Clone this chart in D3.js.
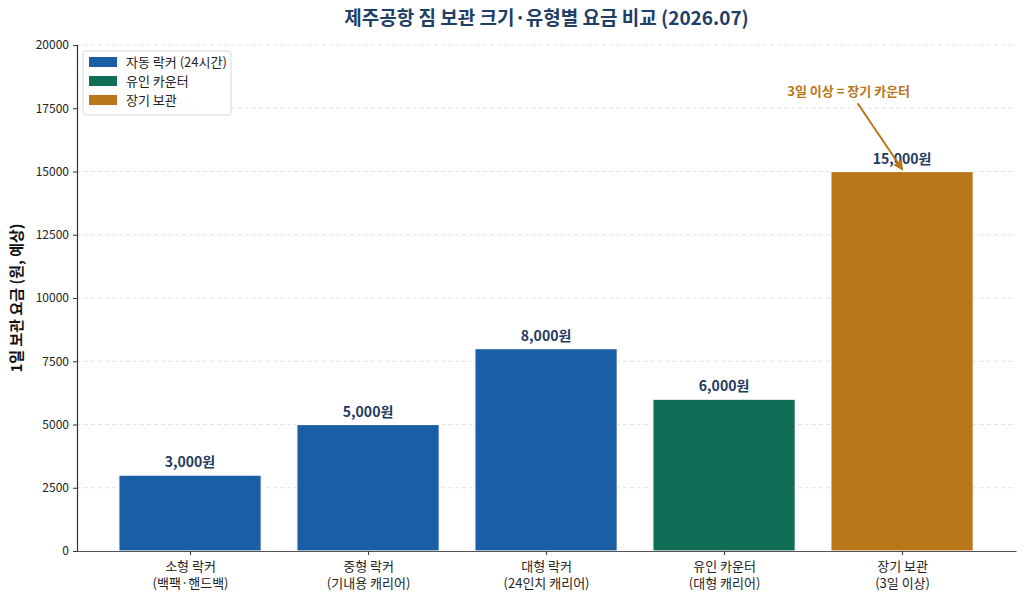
<!DOCTYPE html>
<html>
<head>
<meta charset="utf-8">
<script src="https://cdn.jsdelivr.net/npm/d3@7"></script>
<style>
  body { margin: 0; background: #fff; }
  text { font-family: "Noto Sans CJK KR", "Noto Sans", sans-serif; }
</style>
</head>
<body>
<div id="chart"></div>
<script>
// data
var categories = ["소형 락커\n(백팩·핸드백)", "중형 락커\n(기내용 캐리어)", "대형 락커\n(24인치 캐리어)", "유인 카운터\n(대형 캐리어)", "장기 보관\n(3일 이상)"];
var prices = [3000, 5000, 8000, 6000, 15000];
var types = ["자동 락커 (24시간)", "자동 락커 (24시간)", "자동 락커 (24시간)", "유인 카운터", "장기 보관"];
var legendKeys = ["자동 락커 (24시간)", "유인 카운터", "장기 보관"];
var yTicks = [0, 2500, 5000, 7500, 10000, 12500, 15000, 17500, 20000];

var width = 1024, height = 601;
var margin = { left: 77, right: 8, top: 45, bottom: 50 };

var svg = d3.select("#chart").append("svg")
    .attr("width", width)
    .attr("height", height);

var xScale = d3.scaleLinear()
    .domain([-0.635, categories.length - 1 + 0.64])
    .range([margin.left, width - margin.right]);

var yScale = d3.scaleLinear()
    .domain([0, 20000])
    .range([height - margin.bottom, margin.top]);

var color = d3.scaleOrdinal()
    .domain(legendKeys)
    .range(["#1a5fa6", "#0f6e55", "#b87718"]);

// grid
svg.append("g")
    .selectAll("line")
    .data(yTicks.slice(1))
    .enter().append("line")
    .attr("x1", margin.left)
    .attr("x2", width - margin.right)
    .attr("y1", function(d) { return yScale(d); })
    .attr("y2", function(d) { return yScale(d); })
    .attr("stroke", "#dcdcdc")
    .attr("stroke-width", 0.8)
    .attr("stroke-dasharray", "4,3");

// bars
var barW = xScale(0.8) - xScale(0);
svg.append("g")
    .selectAll("rect")
    .data(prices)
    .enter().append("rect")
    .attr("x", function(d, i) { return xScale(i) - barW / 2; })
    .attr("y", function(d) { return yScale(d); })
    .attr("width", barW)
    .attr("height", function(d) { return yScale(0) - yScale(d); })
    .attr("fill", function(d, i) { return color(types[i]); })
    .attr("stroke", "#ffffff")
    .attr("stroke-width", 1.2);

// value labels
svg.append("g")
    .selectAll("text")
    .data(prices)
    .enter().append("text")
    .attr("x", function(d, i) { return xScale(i); })
    .attr("y", function(d) { return yScale(d) - 8; })
    .attr("text-anchor", "middle")
    .attr("font-size", 14)
    .attr("font-weight", "bold")
    .attr("fill", "#1f3a5f")
    .text(function(d) { return d3.format(",")(d) + "원"; });

// axes
var yAxis = svg.append("g")
    .attr("transform", "translate(" + margin.left + ",0)")
    .call(d3.axisLeft(yScale).tickValues(yTicks).tickFormat(d3.format("d")).tickSize(4).tickPadding(4));
yAxis.selectAll("text").attr("font-size", 12).attr("fill", "#222");
yAxis.select(".domain").attr("stroke", "#333").attr("stroke-width", 1.2);
yAxis.selectAll(".tick line").attr("stroke", "#333");

var xAxis = svg.append("g")
    .attr("transform", "translate(0," + yScale(0) + ")")
    .call(d3.axisBottom(xScale).tickValues(d3.range(categories.length)).tickFormat("").tickSize(4).tickSizeOuter(0));
xAxis.select(".domain").attr("stroke", "#555").attr("stroke-width", 1.2);
xAxis.selectAll(".tick line").attr("stroke", "#333");

xAxis.selectAll(".tick").append("text")
    .attr("text-anchor", "middle")
    .attr("fill", "#222")
    .attr("font-size", 13)
    .selectAll("tspan")
    .data(function(d) { return categories[d].split("\n"); })
    .enter().append("tspan")
    .attr("x", 0)
    .attr("y", function(d, i) { return 20 + i * 17; })
    .text(function(d) { return d; });

// y label
svg.append("text")
    .attr("transform", "translate(22," + ((margin.top + yScale(0)) / 2) + ") rotate(-90)")
    .attr("text-anchor", "middle")
    .attr("font-size", 15)
    .attr("font-weight", "bold")
    .attr("fill", "#111")
    .text("1일 보관 요금 (원, 예상)");

// title
svg.append("text")
    .attr("x", (margin.left + width - margin.right) / 2)
    .attr("y", 25)
    .attr("text-anchor", "middle")
    .attr("font-size", 19)
    .attr("font-weight", "bold")
    .attr("fill", "#1f3f66")
    .text("제주공항 짐 보관 크기·유형별 요금 비교 (2026.07)");

// annotation
var defs = svg.append("defs");
defs.append("marker")
    .attr("id", "arrow")
    .attr("viewBox", "0 0 10 10")
    .attr("refX", 8).attr("refY", 5)
    .attr("markerWidth", 5).attr("markerHeight", 5)
    .attr("orient", "auto")
    .append("path")
    .attr("d", "M0,0 L10,5 L0,10 z")
    .attr("fill", "#b87718");

svg.append("line")
    .attr("x1", xScale(3.75)).attr("y1", yScale(17700))
    .attr("x2", xScale(4)).attr("y2", yScale(15100))
    .attr("stroke", "#b87718")
    .attr("stroke-width", 2)
    .attr("marker-end", "url(#arrow)");

svg.append("text")
    .attr("x", xScale(3.7))
    .attr("y", yScale(18000))
    .attr("text-anchor", "middle")
    .attr("font-size", 13)
    .attr("font-weight", "bold")
    .attr("fill", "#b87718")
    .text("3일 이상 = 장기 카운터");

// legend
var legend = svg.append("g").attr("transform", "translate(83,51)");
legend.append("rect")
    .attr("width", 148).attr("height", 64)
    .attr("rx", 3)
    .attr("fill", "#fff").attr("fill-opacity", 0.85)
    .attr("stroke", "#d8d8d8");
var lg = legend.selectAll("g")
    .data(legendKeys)
    .enter().append("g")
    .attr("transform", function(d, i) { return "translate(6," + (6 + i * 19) + ")"; });
lg.append("rect")
    .attr("width", 28).attr("height", 10)
    .attr("fill", color);
lg.append("text")
    .attr("x", 37).attr("y", 5)
    .attr("dy", "0.35em")
    .attr("font-size", 13)
    .attr("fill", "#222")
    .text(function(d) { return d; });
</script>
</body>
</html>
